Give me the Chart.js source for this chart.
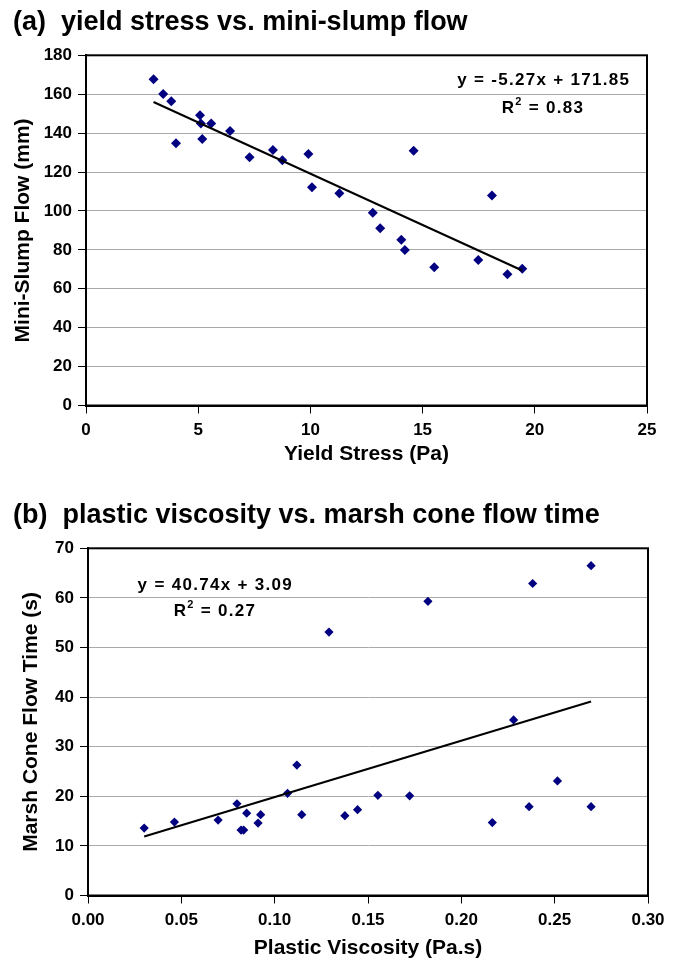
<!DOCTYPE html>
<html><head><meta charset="utf-8">
<script src="https://cdn.jsdelivr.net/npm/chart.js@4.4.1/dist/chart.umd.min.js"></script>
<style>
html,body{margin:0;padding:0;background:#fff;width:675px;height:960px;overflow:hidden}
canvas{display:block;position:absolute;left:0}
#ca{top:0}#cb{top:480px}
</style></head>
<body>
<canvas id="ca" width="675" height="480"></canvas>
<canvas id="cb" width="675" height="480"></canvas>
<script>
// ---- Chart (a) data ----
const yieldStress = [3.01,3.44,3.80,4.01,5.08,5.12,5.18,5.58,6.42,7.29,8.33,8.75,9.91,10.07,11.29,12.78,13.11,14.05,14.21,14.60,15.52,17.48,18.09,18.78,19.44];
const slumpFlow   = [167.7,160.1,156.4,134.8,149.2,145.0,137.0,145.0,141.1,127.6,131.3,126.0,129.3,112.2,109.1,99.1,91.1,85.2,79.9,131.0,71.0,74.8,108.0,67.4,70.3];
const trendAx = [3.01, 19.44];
const trendAy = [156.0, 69.4];
const xTicksA = [0,5,10,15,20,25];
const xLabelsA = ['0','5','10','15','20','25'];
const yTicksA = [0,20,40,60,80,100,120,140,160,180];
const yLabelsA = ['0','20','40','60','80','100','120','140','160','180'];

// ---- Chart (b) data ----
const plasticVisc = [0.0301,0.0463,0.0697,0.0798,0.0820,0.0834,0.0850,0.0911,0.0925,0.1069,0.1119,0.1145,0.1291,0.1376,0.1444,0.1553,0.1723,0.1821,0.2166,0.2280,0.2363,0.2382,0.2515,0.2695,0.2695];
const marshTime   = [13.6,14.8,15.2,18.5,13.2,13.2,16.6,14.6,16.3,20.6,26.3,16.3,53.1,16.1,17.3,20.2,20.1,59.3,14.7,35.4,17.9,62.9,23.1,17.9,66.5];
const trendBx = [0.0301, 0.2695];
const trendBy = [11.9, 39.1];
const xTicksB = [0,0.05,0.10,0.15,0.20,0.25,0.30];
const xLabelsB = ['0.00','0.05','0.10','0.15','0.20','0.25','0.30'];
const yTicksB = [0,10,20,30,40,50,60,70];
const yLabelsB = ['0','10','20','30','40','50','60','70'];

const FONT = "'Liberation Sans', Arial, Helvetica, sans-serif";
Chart.defaults.font.family = FONT;
Chart.defaults.color = '#000';

const framePlugin = {
  id: 'frame',
  afterDraw(chart, args, o) {
    const ctx = chart.ctx, a = chart.chartArea;
    ctx.save();
    ctx.strokeStyle = '#000';
    ctx.lineWidth = 2;
    ctx.strokeRect(a.left, a.top, a.right - a.left, a.bottom - a.top);
    ctx.fillStyle = '#000';
    ctx.textBaseline = 'middle';
    try { ctx.letterSpacing = o.spacing + 'px'; } catch (e) {}
    const main = 'bold ' + o.size + 'px ' + FONT;
    const sup = 'bold ' + Math.round(o.size * 0.62) + 'px ' + FONT;
    ctx.font = main;
    ctx.textAlign = 'center';
    ctx.fillText(o.eq, o.eqX, o.eqY);
    ctx.textAlign = 'left';
    const p1 = 'R', p3 = ' = ' + o.r2;
    const w1 = ctx.measureText(p1).width;
    const w3 = ctx.measureText(p3).width;
    ctx.font = sup;
    const w2 = ctx.measureText('2').width;
    let x = o.rX - (w1 + w2 + w3) / 2;
    ctx.font = main;
    ctx.fillText(p1, x, o.rY);
    ctx.font = sup;
    ctx.fillText('2', x + w1, o.rY - 6.5);
    ctx.font = main;
    ctx.fillText(p3, x + w1 + w2, o.rY);
    ctx.restore();
  }
};

function tickFont() { return {size: 17, weight: 'bold'}; }
function titleFont() { return {size: 21, weight: 'bold', lineHeight: 1}; }

function makeChart(id, cfg) {
  return new Chart(document.getElementById(id), {
    type: 'scatter',
    data: {
      datasets: [
        {
          data: cfg.lx.map((x, i) => ({x: x, y: cfg.ly[i]})),
          showLine: true, borderColor: '#000', borderWidth: 2,
          pointRadius: 0, fill: false, order: 0
        },
        {
          data: cfg.px.map((x, i) => ({x: x, y: cfg.py[i]})),
          pointStyle: 'rectRot', pointRadius: cfg.r,
          backgroundColor: '#000080', borderColor: '#000080', borderWidth: 0,
          showLine: false, order: 1
        }
      ]
    },
    options: {
      responsive: false, animation: false, devicePixelRatio: 1,
      layout: {padding: {left: 13, right: cfg.padR, top: 0, bottom: 0}},
      plugins: {
        legend: {display: false},
        tooltip: {enabled: false},
        title: {
          display: true, text: cfg.title, align: 'start', color: '#000',
          font: {size: 27, weight: 'bold', lineHeight: 1.2},
          padding: {top: cfg.tTop, bottom: cfg.tBot}
        },
        frame: cfg.ann
      },
      scales: {
        x: {
          type: 'linear', position: 'bottom', min: cfg.xMin, max: cfg.xMax,
          afterBuildTicks: s => { s.ticks = cfg.xTicks.map(v => ({value: v})); },
          afterFit: s => { s.height = cfg.xH; },
          ticks: {font: tickFont(), color: '#000', padding: 7, autoSkip: false, maxRotation: 0,
                  callback: (v, i) => cfg.xLabels[i]},
          grid: {drawOnChartArea: false, drawTicks: true, tickLength: 8, tickColor: '#000', tickWidth: 1},
          border: {display: true, color: '#000', width: 2},
          title: {display: true, text: cfg.xTitle, color: '#000', font: titleFont(),
                  padding: {top: 0, bottom: cfg.xTitlePad}}
        },
        y: {
          type: 'linear', position: 'left', min: cfg.yMin, max: cfg.yMax,
          afterBuildTicks: s => { s.ticks = cfg.yTicks.map(v => ({value: v})); },
          afterFit: s => { s.width = cfg.yW; },
          ticks: {font: tickFont(), color: '#000', padding: 6, autoSkip: false,
                  callback: (v, i) => cfg.yLabels[i]},
          grid: {color: '#aaaaaa', lineWidth: 1, drawTicks: true, tickLength: 8, tickColor: '#000', tickWidth: 1},
          border: {display: true, color: '#000', width: 2},
          title: {display: true, text: cfg.yTitle, color: '#000', font: titleFont(),
                  padding: {top: cfg.yTitlePad, bottom: 0}}
        }
      }
    },
    plugins: [framePlugin]
  });
}

makeChart('ca', {
  title: '(a)  yield stress vs. mini-slump flow',
  px: yieldStress, py: slumpFlow, lx: trendAx, ly: trendAy, r: 5,
  xMin: 0, xMax: 25, xTicks: xTicksA, xLabels: xLabelsA,
  yMin: 0, yMax: 180, yTicks: yTicksA, yLabels: yLabelsA,
  xTitle: 'Yield Stress (Pa)', yTitle: 'Mini-Slump Flow (mm)',
  padR: 28, yW: 73, xH: 74.5, tTop: 6.3, tBot: 16.6, xTitlePad: 15, yTitlePad: 0,
  ann: {eq: 'y = -5.27x + 171.85', r2: '0.83', eqX: 543.7, eqY: 80.7, rX: 543, rY: 108.7, size: 17, spacing: 1.3}
});

makeChart('cb', {
  title: '(b)  plastic viscosity vs. marsh cone flow time',
  px: plasticVisc, py: marshTime, lx: trendBx, ly: trendBy, r: 4.6,
  xMin: 0, xMax: 0.30, xTicks: xTicksB, xLabels: xLabelsB,
  yMin: 0, yMax: 70, yTicks: yTicksB, yLabels: yLabelsB,
  xTitle: 'Plastic Viscosity (Pa.s)', yTitle: 'Marsh Cone Flow Time (s)',
  padR: 27, yW: 75, xH: 64.5, tTop: 19.8, tBot: 16.1, xTitlePad: 1.5, yTitlePad: 8,
  ann: {eq: 'y = 40.74x + 3.09', r2: '0.27', eqX: 215.3, eqY: 105, rX: 215, rY: 131.7, size: 17, spacing: 1.3}
});
</script>
</body></html>
